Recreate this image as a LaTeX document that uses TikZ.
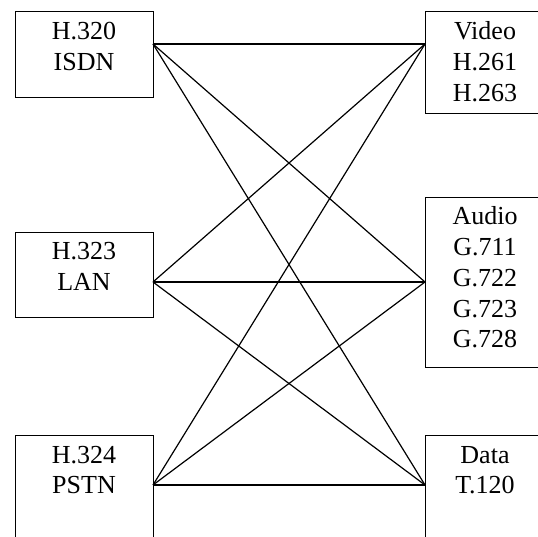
\documentclass[tikz,border=0pt]{standalone}
\usepackage{fontspec}
\setmainfont{Liberation Serif}
\begin{document}
\begin{tikzpicture}[x=1pt,y=1pt,
  box/.style={draw, line width=1.4pt, inner sep=0pt, anchor=north west},
  lbl/.style={align=center, inner sep=0pt, anchor=base, font=\fontsize{26}{30.7}\selectfont},
  link/.style={line width=1.2pt}]
\useasboundingbox (0,0) rectangle (538,536);
\clip (0,0) rectangle (538,536);
% left boxes
\node[box, minimum width=138pt, minimum height=86pt] (isdn) at (15,525) {};
\node[box, minimum width=138pt, minimum height=85pt] (lan) at (15,304) {};
\node[box, minimum width=138pt, minimum height=120pt] (pstn) at (15,101) {};
% right boxes
\node[box, minimum width=130pt, minimum height=102pt] (video) at (425,525) {};
\node[box, minimum width=130pt, minimum height=170pt] (audio) at (425,339) {};
\node[box, minimum width=130pt, minimum height=120pt] (data) at (425,101) {};
% labels (anchor = baseline of last line)
\node[lbl] (tisdn) at (84,465.3) {H.320\\ISDN};
\node[lbl] (tlan) at (84,245.3) {H.323\\LAN};
\node[lbl] (tpstn) at (84,42.3) {H.324\\PSTN};
\node[lbl] (tvideo) at (485,434.6) {Video\\H.261\\H.263};
\node[lbl] (taudio) at (485,188.2) {Audio\\G.711\\G.722\\G.723\\G.728};
\node[lbl] (tdata) at (485,42.3) {Data\\T.120};
% connection points
\coordinate (a1) at (153,492);
\coordinate (a2) at (153,254);
\coordinate (a3) at (153,51);
\coordinate (b1) at (425,492);
\coordinate (b2) at (425,254);
\coordinate (b3) at (425,51);
\foreach \a in {a1,a2,a3}{
  \foreach \b in {b1,b2,b3}{
    \draw[link] (\a) -- (\b);
  }
}
\end{tikzpicture}
\end{document}
